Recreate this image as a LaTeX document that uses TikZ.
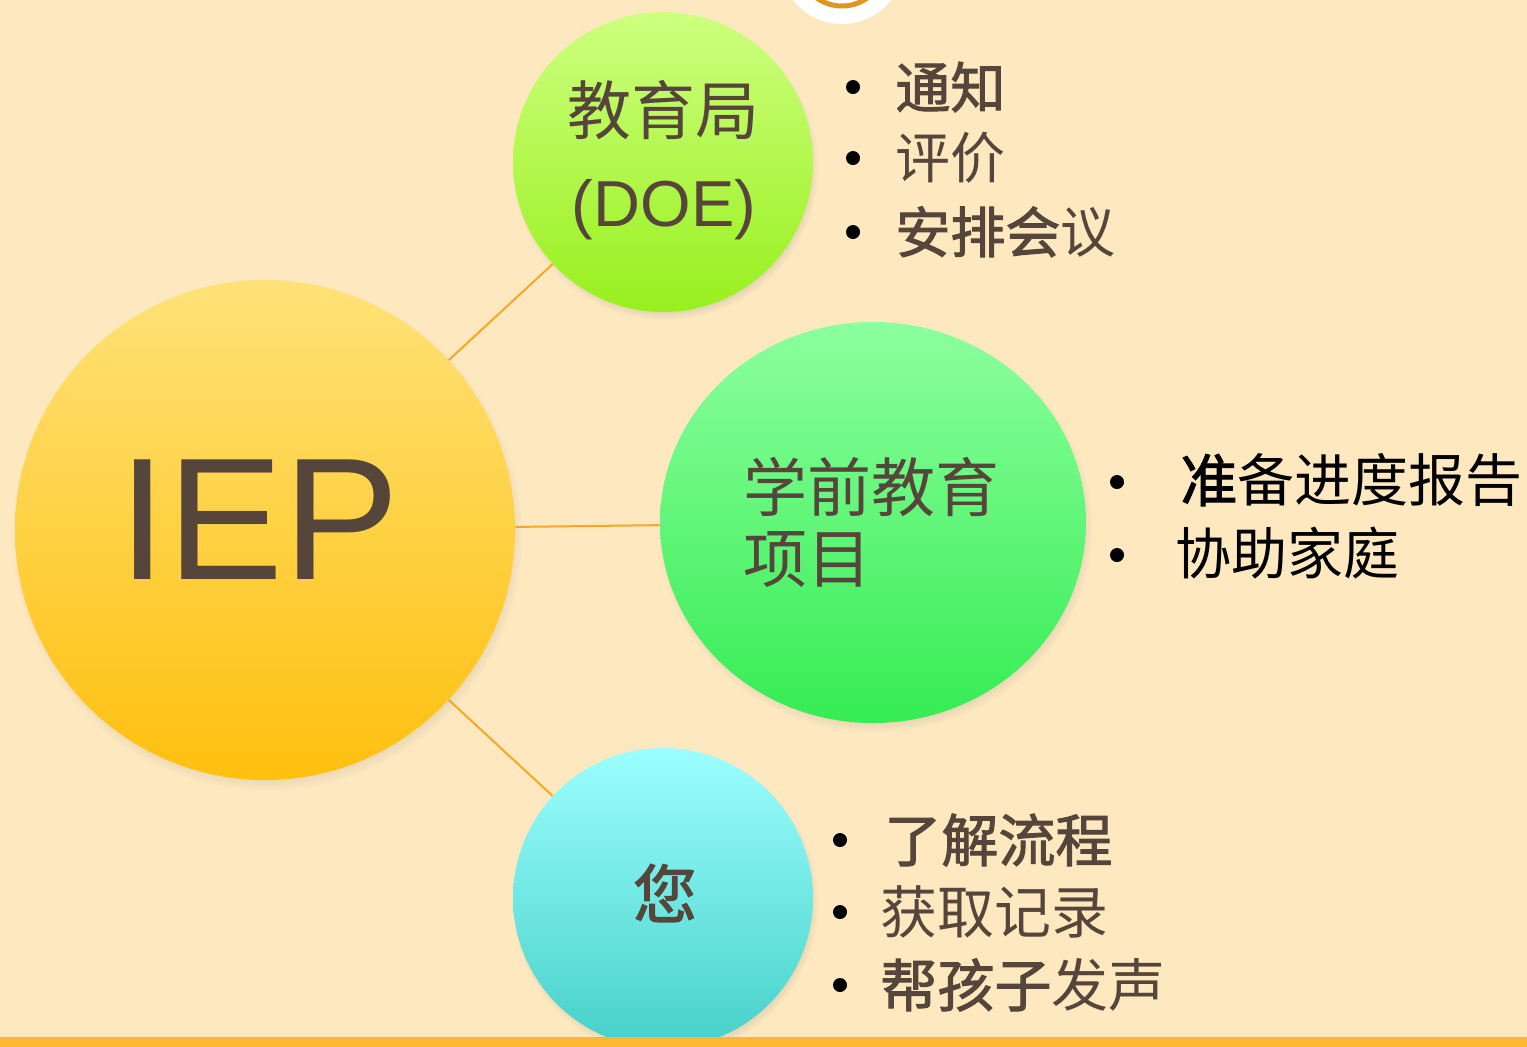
\documentclass[tikz,border=0pt]{standalone}
\usepackage{fontspec}
\setmainfont{Liberation Sans}
\newfontfamily\cjk{Noto Sans CJK SC}
\newfontfamily\cjkb[FakeBold=1.8]{Noto Sans CJK SC}
\usetikzlibrary{shadows,backgrounds,shapes.geometric}
\definecolor{bg}{HTML}{FDE8C0}
\definecolor{bar}{HTML}{FCB830}
\definecolor{txt}{HTML}{56453A}
\definecolor{link}{HTML}{F7A823}
\begin{document}
\begin{tikzpicture}[x=0.5pt,y=-0.5pt,
  bubble/.style={circle,inner sep=0pt,shading=axis,
    circular drop shadow={shadow xshift=1pt,shadow yshift=-2.5pt,shadow scale=1.02,opacity=0.45}},
  lbl/.style={inner sep=0pt,text=txt,font=\cjk\fontsize{32pt}{37pt}\selectfont},
  item/.style={inner sep=0pt,anchor=west,text=txt,font=\cjk\fontsize{27.5pt}{30pt}\selectfont},
  link/.style={draw=link,line width=1pt}]
\useasboundingbox (0,0) rectangle (1527,1046);
% top partial logo
\fill[white] (842,-38) circle[radius=62];
\draw[color=link!90!black,line width=2.5pt] (842,-38) circle[radius=44];
\draw[color=link!90!black,line width=1.2pt] (842,-38) circle[radius=36];
% circles
\node[bubble,minimum size=250pt,top color={rgb,255:red,255;green,226;blue,120},bottom color={rgb,255:red,255;green,192;blue,14}] (iep) at (265,530) {};
\node[bubble,minimum size=150pt,top color={rgb,255:red,206;green,255;blue,128},bottom color={rgb,255:red,152;green,240;blue,30}] (doe) at (663,162) {};
\node[bubble,ellipse,minimum width=213pt,minimum height=200.5pt,top color={rgb,255:red,140;green,255;blue,158},bottom color={rgb,255:red,54;green,236;blue,84}] (pre) at (873,522.5) {};
\node[bubble,minimum size=150pt,top color={rgb,255:red,156;green,255;blue,255},bottom color={rgb,255:red,70;green,208;blue,200}] (you) at (663,898) {};
\fill[bar] (-5,1037) rectangle (1532,1060);
\begin{scope}[on background layer]
\fill[bg] (0,0) rectangle (1527,1046);
\draw[link] (iep) -- (doe);
\draw[link] (iep) -- (pre);
\draw[link] (iep) -- (you);
\end{scope}
% circle labels
\node[inner sep=0pt,text=txt,font=\fontsize{87pt}{90pt}\selectfont] (iept) at (259,520) {IEP};
\node[lbl] (doe1) at (663,110) {教育局};
\node[inner sep=0pt,text=txt,font=\fontsize{32.5pt}{36pt}\selectfont] (doe2) at (664,210) {(DOE)};
\node[lbl,anchor=west] (pre1) at (743,487) {学前教育};
\node[lbl,anchor=west] (pre2) at (743,560) {项目};
\node[lbl,font=\cjkb\fontsize{32pt}{37pt}\selectfont] (yout) at (665,893) {您};
% bullets DOE
\foreach \y in {87,158,232} \fill (853,\y) circle[radius=7];
\node[item] (d1) at (895,87) {\cjkb 通知};
\node[item] (d2) at (895,158) {评价};
\node[item] (d3) at (895,232) {{\cjkb 安排会}议};
% bullets pre
\foreach \y in {482,555} \fill (1117,\y) circle[radius=7];
\node[item,text=black,font=\cjk\fontsize{28.5pt}{30pt}\selectfont] (p1) at (1180,480) {{\cjkb 准}备进度报告};
\node[item,text=black,font=\cjk\fontsize{28pt}{30pt}\selectfont] (p2) at (1175,553) {协助家庭};
% bullets you
\foreach \y in {840,912,985} \fill (840,\y) circle[radius=7];
\node[item,font=\cjk\fontsize{28.5pt}{30pt}\selectfont] (y1) at (884,840) {\cjkb 了解流程};
\node[item,font=\cjk\fontsize{28.5pt}{30pt}\selectfont] (y2) at (880,912) {获取记录};
\node[item,font=\cjk\fontsize{28.5pt}{30pt}\selectfont] (y3) at (880,985) {{\cjkb 帮孩子}发声};
\end{tikzpicture}
\end{document}
